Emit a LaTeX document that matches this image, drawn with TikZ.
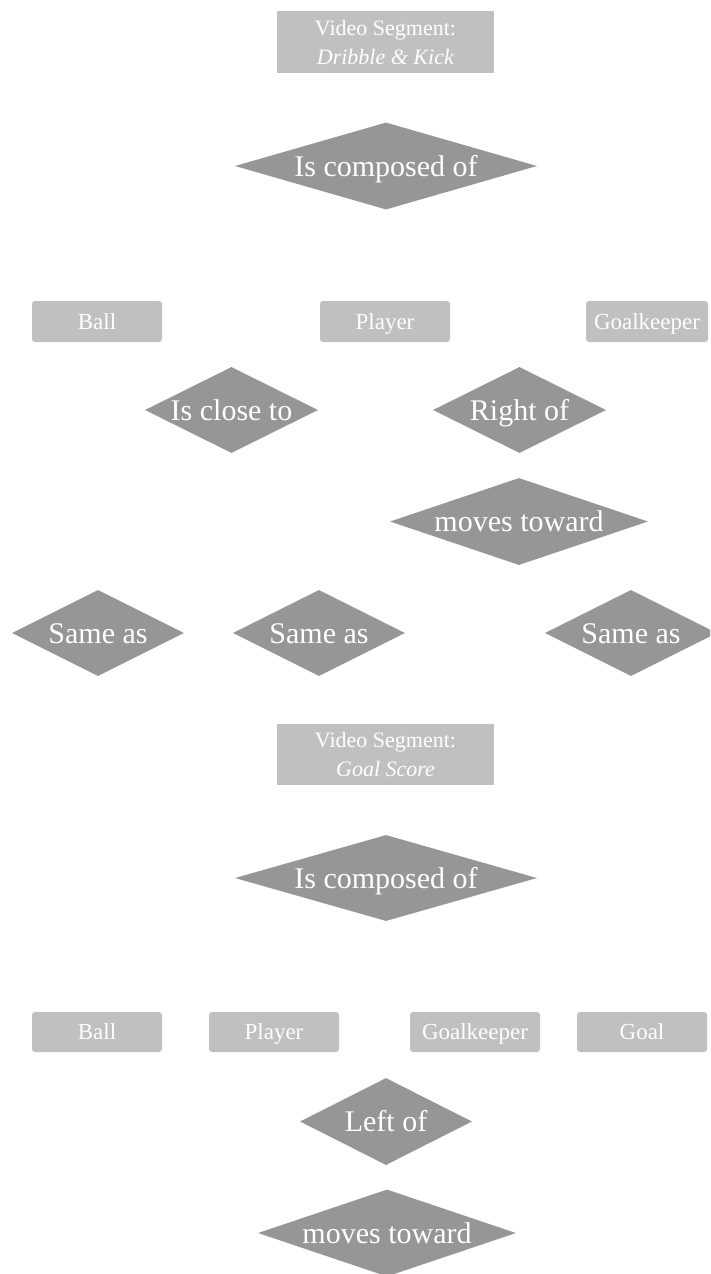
\documentclass[tikz,border=0pt]{standalone}
\usepackage{fontspec}
\setmainfont{Liberation Serif}
\usetikzlibrary{shapes.geometric}
\definecolor{boxgray}{HTML}{C0C0C0}
\definecolor{diagray}{HTML}{969696}
\tikzset{
  seg/.style={rectangle, fill=boxgray, text=white, minimum width=217pt,
    minimum height=62pt, inner sep=0pt, align=center,
    font=\fontsize{22}{29}\selectfont},
  obj/.style={rectangle, rounded corners=3pt, fill=boxgray, text=white,
    minimum width=130pt, minimum height=41pt, inner sep=0pt,
    text height=15pt, text depth=0pt,
    font=\fontsize{23}{27}\selectfont},
  rel/.style={diamond, fill=diagray, text=white, inner sep=0pt,
    text height=20pt, text depth=0pt,
    font=\fontsize{30}{34}\selectfont},
  relS/.style={rel, aspect=2, minimum width=173pt, minimum height=86pt},
  relL/.style={rel, aspect=3, minimum width=258pt, minimum height=87pt},
  relXL/.style={rel, aspect=3.47, minimum width=302pt, minimum height=87pt},
}
\begin{document}
\begin{tikzpicture}[x=1pt, y=-1pt]
\clip (0,0) rectangle (710,1274);
\fill[white] (0,0) rectangle (710,1274);

% first segment
\node[seg] (seg1) at (385.5,42) {Video Segment:\\\textit{Dribble \& Kick}};
\node[relXL] (comp1) at (386,166) {Is composed of};
\node[obj] (ball1) at (97,321.5) {Ball};
\node[obj] (player1) at (385,321.5) {Player};
\node[obj, minimum width=122pt] (gk1) at (647,321.5) {Goalkeeper};
\node[relS] (close) at (231.5,410) {Is close to};
\node[relS] (right) at (519.5,410) {Right of};
\node[relL] (moves1) at (519,521.5) {moves toward};

% links between the segments
\node[relS, minimum width=172pt] (same1) at (98,633) {Same as};
\node[relS, minimum width=172pt] (same2) at (319,633) {Same as};
\node[relS, minimum width=172pt] (same3) at (631,633) {Same as};

% second segment
\node[seg, minimum height=61pt] (seg2) at (385.5,754.5) {Video Segment:\\\textit{Goal Score}};
\node[relXL, minimum height=86pt] (comp2) at (386,878) {Is composed of};
\node[obj, minimum height=40pt] (ball2) at (97,1032) {Ball};
\node[obj, minimum height=40pt] (player2) at (274,1032) {Player};
\node[obj, minimum height=40pt] (gk2) at (475,1032) {Goalkeeper};
\node[obj, minimum height=40pt] (goal2) at (642,1032) {Goal};
\node[relS, minimum width=172pt, minimum height=87pt] (left) at (386,1121.5) {Left of};
\node[relL] (moves2) at (387,1233) {moves toward};
\end{tikzpicture}
\end{document}
